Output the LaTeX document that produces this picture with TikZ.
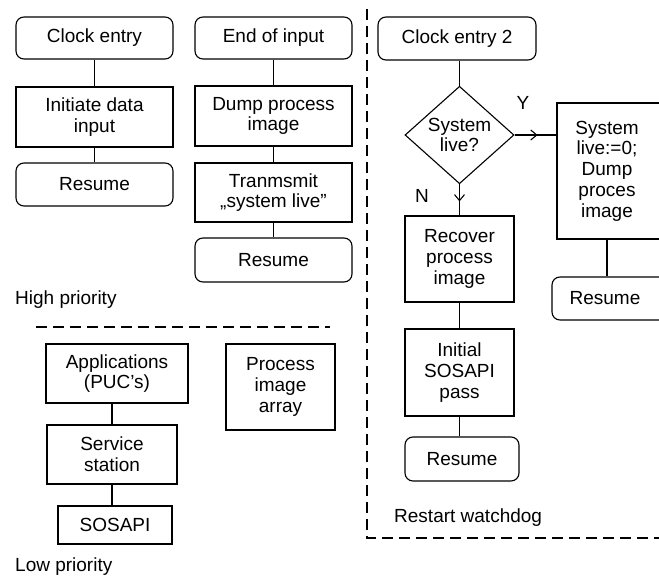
\documentclass[tikz,border=0pt]{standalone}
\usepackage{fontspec}
\setmainfont{Liberation Sans}
\usetikzlibrary{shapes.geometric,decorations.markings,arrows.meta}
\begin{document}
\begin{tikzpicture}[x=1pt,y=-1pt,
  every node/.style={font=\fontsize{19}{20.7}\selectfont, align=center, inner sep=0pt},
  box/.style={draw, line width=1.1pt, minimum width=#1},
  rbox/.style={draw, line width=1.1pt, rounded corners=8pt, minimum width=#1},
  link/.style={line width=1.1pt},
  midarrow/.style={line width=1.1pt, postaction={decorate},
    decoration={markings, mark=at position 0.55 with {\arrow{Straight Barb[length=6pt,width=10pt]}}}},
  sep/.style={line width=1.1pt, dash pattern=on 11pt off 6pt},
  lbl/.style={anchor=west}]
\clip (0,0) rectangle (659,578);
\useasboundingbox (0,0) rectangle (659,578);
% high priority column 1
\node[rbox=157, minimum height=42] (clk) at (94.5,38) {Clock entry};
\node[box=157, minimum height=60] (init) at (94.5,117) {Initiate data\\input};
\node[rbox=157, minimum height=43] (res1) at (94.5,184.5) {Resume};
% column 2
\node[rbox=157, minimum height=42] (eoi) at (273.5,38) {End of input};
\node[box=157, minimum height=60] (dump) at (273.5,116) {Dump process\\image};
\node[box=157, minimum height=59] (trans) at (273.5,192.5) {Tranmsmit\\„system live”};
\node[rbox=157, minimum height=44] (res2) at (273.5,260) {Resume};
% watchdog
\node[rbox=158, minimum height=43] (clk2) at (457,38.5) {Clock entry 2};
\node[draw, line width=1.1pt, diamond, minimum width=109, minimum height=96] (dia) at (459.5,135) {System\\live?};
\node[box=120, minimum height=136] (sys) at (617,171) {};
\node (systxt) at (607,171) {System\\live:=0;\\Dump\\proces\\image};
\node[rbox=120, minimum height=43] (res3) at (612,298.5) {};
\node (res3txt) at (605,298.5) {Resume};
\node[box=109, minimum height=86] (rec) at (459.5,259) {Recover\\process\\image};
\node[box=109, minimum height=87] (init2) at (459.5,372.5) {Initial\\SOSAPI\\pass};
\node[rbox=114, minimum height=44] (res4) at (462,459) {Resume};
% low priority
\node[box=142, minimum height=59] (app) at (117,373.5) {Applications\\(PUC’s)};
\node[box=130, minimum height=59] (serv) at (112,454.5) {Service\\station};
\node[box=114, minimum height=38] (sos) at (115,525) {SOSAPI};
\node[box=109, minimum height=86] (pia) at (280.5,387) {Process\\image\\array};
% labels
\node[lbl] (hp) at (15,300) {High priority};
\node[lbl] (lp) at (15,567) {Low priority};
\node[lbl] (rw) at (394,518) {Restart watchdog};
\node (ylab) at (523,103) {Y};
\node (nlab) at (422,196) {N};
% connectors
\draw[link] (clk) -- (init);
\draw[link] (init) -- (res1);
\draw[link] (eoi) -- (dump);
\draw[link] (dump) -- (trans);
\draw[link] (trans) -- (res2);
\draw[link] (dia.north |- clk2.south) -- (dia.north);
\draw[midarrow] (dia.east) -- (sys.west |- dia.east);
\draw[midarrow] (dia.south) -- (rec.north);
\draw[link] (rec) -- (init2);
\draw[link] (init2.south) -- (init2.south |- res4.north);
\draw[link] (systxt.center |- sys.south) -- (systxt.center |- res3.north);
\draw[link] (serv.north |- app.south) -- (serv.north);
\draw[link] (serv.south) -- (serv.south |- sos.north);
% separators
\coordinate (hl1) at (36,327);
\coordinate (hl2) at (330,327);
\draw[sep] (hl1) -- (hl2);
\coordinate (vt) at (367,9);
\coordinate (vb) at (367,538);
\coordinate (vr) at (670,538);
\draw[sep] (vt) -- (vb) -- (vr);
\end{tikzpicture}
\end{document}
